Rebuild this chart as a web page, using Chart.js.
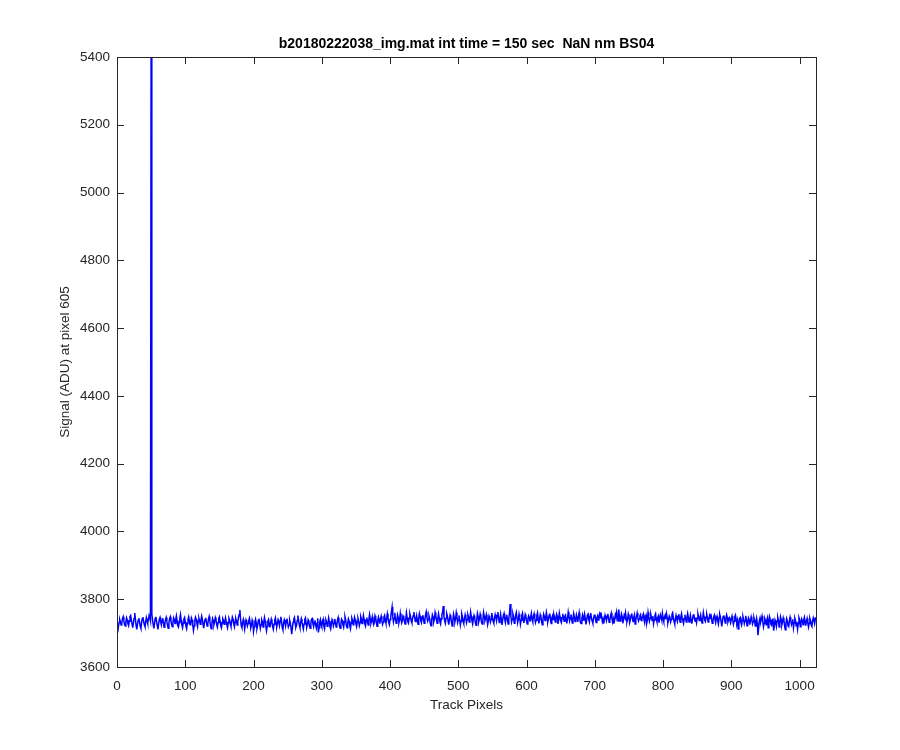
<!DOCTYPE html>
<html>
<head>
<meta charset="utf-8">
<script src="https://cdn.jsdelivr.net/npm/chart.js@4.4.1/dist/chart.umd.min.js"></script>
<style>
  html, body { margin: 0; padding: 0; background: #ffffff; }
  #wrap { width: 900px; height: 750px; position: relative; }
</style>
</head>
<body>
<div id="wrap"><canvas id="c" width="900" height="750"></canvas></div>
<script>
// ---- Data ----
const titleText = "b20180222038_img.mat int time = 150 sec  NaN nm BS04";
const xLabel = "Track Pixels";
const yLabel = "Signal (ADU) at pixel 605";
const xTicks = [0, 100, 200, 300, 400, 500, 600, 700, 800, 900, 1000];
const yTicks = [3600, 3800, 4000, 4200, 4400, 4600, 4800, 5000, 5200, 5400];

// signal at track pixels 1..1024
const signal = [
  3702,3718,3731,3740,3733,3724,3729,3742,3748,3737,3726,3721,3733,3745,3739,3728,3722,3735,3749,3752,3738,3727,3716,3729,3743,3759,3741,3722,3711,3726,3738,3744,
  3733,3720,3714,3730,3743,3747,3735,3725,3719,3732,3746,3738,3729,3741,3752,3745,3736,5520,3757,3740,3726,3714,3728,3744,3748,3734,3722,3711,3727,3741,3746,3733,
  3724,3737,3744,3731,3717,3726,3739,3746,3735,3723,3714,3730,3742,3748,3736,3725,3719,3733,3745,3739,3728,3740,3751,3737,3722,3718,3731,3744,3755,3738,3724,3716,
  3729,3742,3746,3733,3721,3713,3728,3740,3748,3736,3725,3731,3745,3739,3724,3708,3722,3738,3747,3741,3729,3719,3735,3744,3736,3726,3738,3750,3741,3727,3715,3730,
  3740,3745,3732,3721,3727,3741,3749,3735,3722,3713,3729,3743,3737,3725,3734,3746,3739,3726,3718,3731,3743,3748,3734,3722,3716,3730,3742,3737,3726,3735,3745,3733,
  3724,3717,3731,3744,3739,3727,3720,3734,3747,3741,3728,3719,3732,3743,3736,3724,3733,3747,3755,3768,3741,3722,3716,3731,3740,3729,3712,3726,3739,3733,3721,3728,
  3737,3744,3730,3716,3723,3738,3731,3705,3719,3734,3741,3729,3713,3722,3737,3743,3728,3714,3725,3739,3733,3718,3731,3746,3736,3721,3707,3720,3735,3740,3727,3717,
  3729,3741,3733,3719,3711,3726,3738,3745,3731,3718,3727,3740,3735,3722,3734,3748,3736,3717,3710,3728,3739,3732,3721,3737,3743,3730,3718,3724,3738,3729,3714,3697,
  3715,3732,3741,3746,3729,3717,3723,3737,3752,3738,3724,3716,3731,3742,3733,3721,3712,3727,3740,3745,3730,3718,3726,3739,3734,3720,3714,3729,3741,3743,3728,3719,
  3731,3738,3724,3715,3729,3744,3702,3716,3733,3740,3726,3719,3735,3741,3722,3713,3728,3739,3733,3720,3727,3745,3736,3719,3712,3726,3740,3735,3721,3729,3742,3731,
  3718,3724,3739,3746,3733,3720,3714,3728,3741,3737,3724,3717,3733,3748,3739,3722,3716,3730,3742,3736,3723,3713,3729,3744,3738,3725,3731,3747,3740,3727,3719,3733,
  3744,3736,3722,3731,3749,3742,3728,3735,3752,3741,3727,3721,3738,3746,3733,3724,3740,3755,3743,3729,3737,3748,3734,3725,3731,3751,3745,3730,3720,3736,3747,3739,
  3728,3742,3750,3737,3726,3733,3747,3752,3738,3729,3743,3757,3744,3731,3725,3740,3749,3763,3777,3748,3733,3744,3760,3741,3729,3738,3754,3746,3731,3740,3758,3743,
  3730,3736,3751,3748,3735,3727,3741,3760,3746,3733,3729,3744,3757,3749,3736,3730,3743,3752,3762,3747,3734,3739,3751,3738,3726,3742,3758,3750,3737,3731,3747,3753,
  3741,3729,3738,3754,3763,3747,3735,3740,3751,3743,3728,3722,3739,3754,3748,3733,3741,3761,3752,3738,3729,3744,3757,3746,3734,3727,3742,3755,3762,3780,3749,3736,
  3729,3744,3758,3751,3736,3725,3740,3753,3747,3732,3721,3738,3756,3746,3733,3742,3760,3748,3731,3739,3752,3740,3724,3736,3757,3749,3735,3728,3743,3754,3744,3731,
  3740,3755,3748,3733,3741,3762,3750,3736,3727,3742,3752,3745,3730,3723,3739,3758,3749,3734,3742,3756,3747,3732,3727,3741,3761,3750,3737,3744,3754,3741,3725,3736,
  3751,3746,3733,3741,3759,3748,3735,3729,3744,3755,3747,3736,3752,3762,3745,3731,3739,3756,3743,3724,3738,3752,3758,3741,3731,3746,3754,3739,3727,3744,3760,3786,
  3751,3733,3741,3757,3748,3729,3736,3753,3761,3744,3732,3740,3756,3745,3726,3738,3752,3759,3743,3730,3741,3755,3749,3735,3727,3742,3751,3746,3734,3747,3758,3740,
  3733,3749,3757,3744,3731,3738,3752,3760,3743,3729,3740,3754,3747,3735,3725,3741,3756,3749,3737,3746,3761,3748,3732,3741,3753,3758,3739,3728,3745,3751,3740,3755,
  3747,3733,3742,3756,3750,3727,3739,3759,3748,3736,3731,3745,3757,3744,3735,3750,3753,3739,3729,3744,3762,3749,3736,3746,3755,3741,3730,3743,3758,3747,3734,3741,
  3754,3745,3733,3748,3760,3742,3730,3728,3744,3753,3739,3746,3757,3743,3726,3737,3752,3756,3741,3733,3748,3759,3745,3736,3729,3743,3752,3755,3740,3731,3746,3751,
  3739,3748,3756,3745,3761,3747,3734,3742,3728,3741,3753,3746,3737,3749,3757,3744,3732,3738,3751,3759,3744,3733,3742,3728,3740,3754,3747,3762,3750,3736,3770,3748,
  3736,3745,3757,3749,3729,3740,3753,3747,3760,3743,3733,3742,3756,3748,3731,3740,3752,3758,3744,3734,3746,3754,3727,3738,3749,3759,3745,3736,3742,3751,3755,3737,
  3742,3749,3756,3740,3731,3747,3753,3729,3738,3761,3748,3735,3744,3755,3746,3737,3750,3728,3739,3752,3757,3741,3733,3745,3750,3731,3744,3754,3746,3738,3758,3743,
  3734,3748,3753,3741,3757,3745,3730,3739,3750,3744,3733,3741,3755,3760,3746,3735,3727,3740,3752,3743,3736,3749,3756,3741,3732,3747,3757,3744,3736,3729,3743,3754,
  3741,3733,3747,3758,3745,3733,3741,3753,3740,3728,3739,3752,3756,3743,3735,3746,3731,3744,3757,3748,3737,3745,3754,3740,3730,3742,3761,3749,3738,3734,3747,3755,
  3746,3733,3739,3751,3744,3757,3741,3729,3736,3748,3753,3740,3731,3745,3750,3737,3727,3743,3755,3747,3734,3720,3736,3749,3752,3741,3730,3744,3754,3746,3733,3740,
  3745,3737,3731,3742,3750,3738,3726,3735,3748,3753,3740,3729,3738,3712,3727,3743,3746,3731,3724,3737,3749,3741,3728,3736,3751,3739,3722,3731,3745,3740,3725,3736,
  3748,3739,3727,3734,3746,3738,3721,3733,3744,3729,3694,3715,3737,3745,3733,3741,3750,3736,3719,3729,3743,3737,3725,3739,3746,3716,3731,3748,3740,3726,3723,3738,
  3744,3707,3722,3739,3733,3720,3735,3746,3737,3718,3729,3748,3740,3724,3733,3745,3737,3722,3710,3728,3743,3736,3721,3719,3736,3747,3738,3725,3732,3741,3716,3730,
  3744,3737,3721,3733,3712,3728,3746,3740,3719,3731,3742,3736,3725,3739,3747,3734,3722,3735,3743,3730,3718,3729,3744,3737,3724,3720,3736,3745,3738,3728,3741,3747
];

// ---- Build points for the library ----
const points = signal.map((v, i) => ({ x: i + 1, y: v }));

const FONT = "'Liberation Sans', Arial, Helvetica, sans-serif";
const AXIS_COLOR = '#262626';

// Inward ticks on all four sides + box + title, like MATLAB axes
const matlabAxes = {
  id: 'matlabAxes',
  afterDraw(chart) {
    const { ctx, chartArea: a, scales } = chart;
    const len = 7;
    ctx.save();
    ctx.strokeStyle = AXIS_COLOR;
    ctx.lineWidth = 1;
    ctx.beginPath();
    xTicks.forEach(v => {
      const px = Math.round(scales.x.getPixelForValue(v)) + 0.5;
      ctx.moveTo(px, a.bottom); ctx.lineTo(px, a.bottom - len);
      ctx.moveTo(px, a.top); ctx.lineTo(px, a.top + len);
    });
    yTicks.forEach(v => {
      const py = Math.round(scales.y.getPixelForValue(v)) + 0.5;
      ctx.moveTo(a.left, py); ctx.lineTo(a.left + len, py);
      ctx.moveTo(a.right, py); ctx.lineTo(a.right - len, py);
    });
    ctx.stroke();
    ctx.strokeRect(Math.round(a.left) + 0.5, Math.round(a.top) + 0.5,
                   Math.round(a.right - a.left), Math.round(a.bottom - a.top));
    // title centred over the axes box
    ctx.fillStyle = '#000000';
    ctx.font = "bold 14px " + FONT;
    ctx.textAlign = 'center';
    ctx.textBaseline = 'middle';
    ctx.fillText(titleText, (a.left + a.right) / 2, a.top - 13);
    ctx.restore();
  }
};

new Chart(document.getElementById('c'), {
  type: 'line',
  data: {
    datasets: [{
      data: points,
      borderColor: '#0000ff',
      borderWidth: 1.5,
      pointRadius: 0,
      tension: 0,
      fill: false
    }]
  },
  options: {
    responsive: false,
    animation: false,
    events: [],
    layout: { padding: { left: 0, right: 84, top: 57, bottom: 0 } },
    plugins: {
      legend: { display: false },
      tooltip: { enabled: false },
      title: { display: false }
    },
    scales: {
      x: {
        type: 'linear',
        min: 0,
        max: 1024,
        afterBuildTicks(scale) { scale.ticks = xTicks.map(v => ({ value: v })); },
        afterFit(scale) { scale.height = 83; },
        grid: { display: false, drawTicks: false, tickLength: 0 },
        border: { display: false },
        ticks: {
          color: AXIS_COLOR,
          font: { family: FONT, size: 13.5 },
          padding: 11,
          maxRotation: 0,
          autoSkip: false,
          callback: v => String(v)
        },
        title: {
          display: true,
          text: xLabel,
          color: AXIS_COLOR,
          font: { family: FONT, size: 13.5 },
          padding: { top: 0, bottom: 37 }
        }
      },
      y: {
        type: 'linear',
        min: 3600,
        max: 5400,
        afterBuildTicks(scale) { scale.ticks = yTicks.map(v => ({ value: v })); },
        afterFit(scale) { scale.width = 117; },
        grid: { display: false, drawTicks: false, tickLength: 0 },
        border: { display: false },
        ticks: {
          color: AXIS_COLOR,
          font: { family: FONT, size: 13.5 },
          padding: 7,
          autoSkip: false,
          callback: v => String(v)
        },
        title: {
          display: true,
          text: yLabel,
          color: AXIS_COLOR,
          font: { family: FONT, size: 13.5 },
          padding: { top: 57, bottom: 0 }
        }
      }
    }
  },
  plugins: [matlabAxes]
});
</script>
</body>
</html>
